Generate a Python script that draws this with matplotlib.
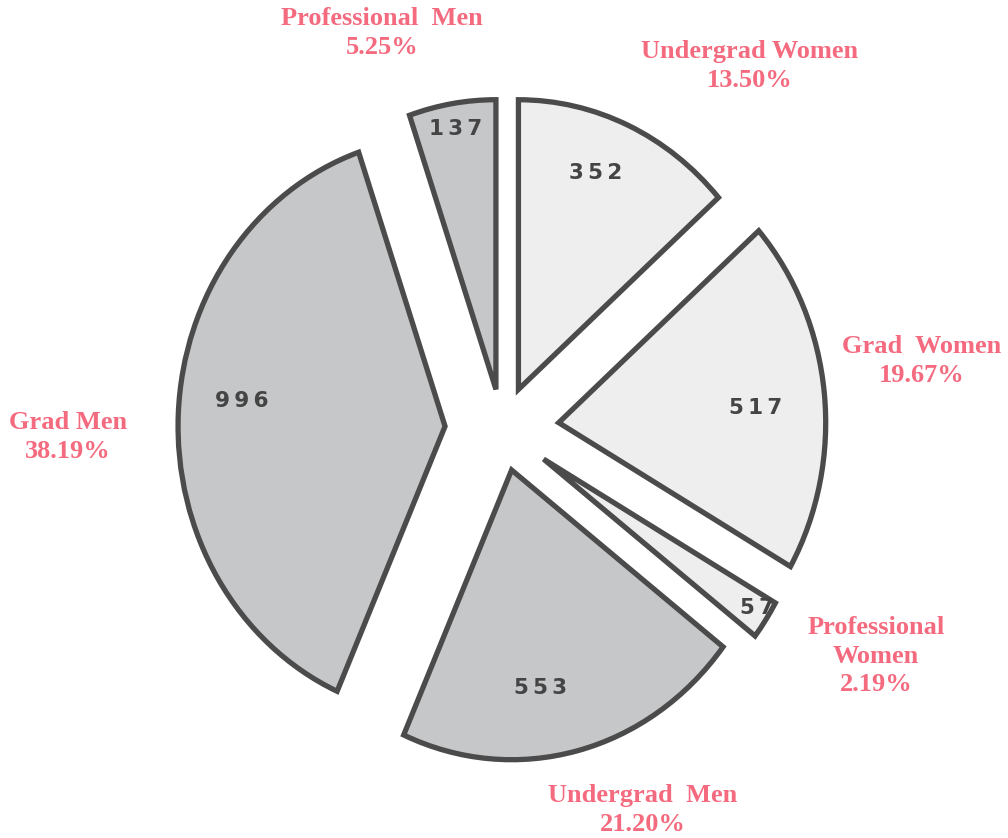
import numpy as np
import matplotlib
matplotlib.use("Agg")
from matplotlib import pyplot as plt

# enrollment counts, clockwise from 12 o'clock
groups = ["Undergrad Women", "Grad Women", "Professional Women",
          "Undergrad Men", "Grad Men", "Professional Men"]
counts = [352, 517, 57, 553, 996, 137]
# the printed percentages (as shown on the chart)
pct_labels = ["13.50%", "19.67%", "2.19%", "21.20%", "38.19%", "5.25%"]
# outer label wording / line breaks as printed
outer_names = ["Undergrad Women", "Grad  Women", "Professional\nWomen",
               "Undergrad  Men", "Grad Men", "Professional  Men"]

W, H = 1008, 838
R = 267
k = 1.085          # the scanned pie is a bit taller than wide
cx, cy = 502, 429  # pie centre in pixels (from top-left)
women_col = "#eeeeee"
men_col = "#c5c7c9"
edge_col = "#4b4b4b"
pink = "#f46a7e"

colors = [women_col] * 3 + [men_col] * 3
# pie() takes explode in data units here
explode = [40, 57, 50, 39, 57, 37]

fig = plt.figure(figsize=(W / 100, H / 100), dpi=100)
ax = fig.add_axes([0, 0, 1, 1])

wedges, _ = ax.pie(counts, colors=colors, startangle=90, counterclock=False,
                   radius=R, center=(cx, (H - cy) / k), explode=explode,
                   wedgeprops=dict(edgecolor=edge_col, linewidth=3.8,
                                   joinstyle="miter"))
ax.set_aspect("auto")
ax.set_xlim(0, W)
ax.set_ylim(0, H / k)
ax.axis("off")

# numbers inside the wedges, placed out toward the rim
num_dist = [0.80, 0.74, 0.95, 0.76, 0.765, 0.91]
num_shift = [3, -2, 1, -6, -4.2, 0]
for w, n, d, s in zip(wedges, counts, num_dist, num_shift):
    ang = np.deg2rad((w.theta1 + w.theta2) / 2 + s)
    x = w.center[0] + d * R * np.cos(ang)
    y = w.center[1] + d * R * np.sin(ang)
    ax.text(x, y, "\u2009".join(str(n)), ha="center", va="center",
            fontsize=15.5, fontweight="bold", color="#444444",
            family="DejaVu Sans")

# outer labels (pixel coords, y from top)
label_pos = [(750, 66), (922, 361), (876, 656), (643, 810), (68, 437), (382, 33)]
for name, p, (lx, ly) in zip(outer_names, pct_labels, label_pos):
    fig.text(lx / W, 1 - ly / H, name + "\n" + p, ha="center", va="center",
             fontsize=19, fontweight="bold", color=pink,
             family="Liberation Serif", linespacing=1.3)

plt.savefig("out.png", dpi=100)
